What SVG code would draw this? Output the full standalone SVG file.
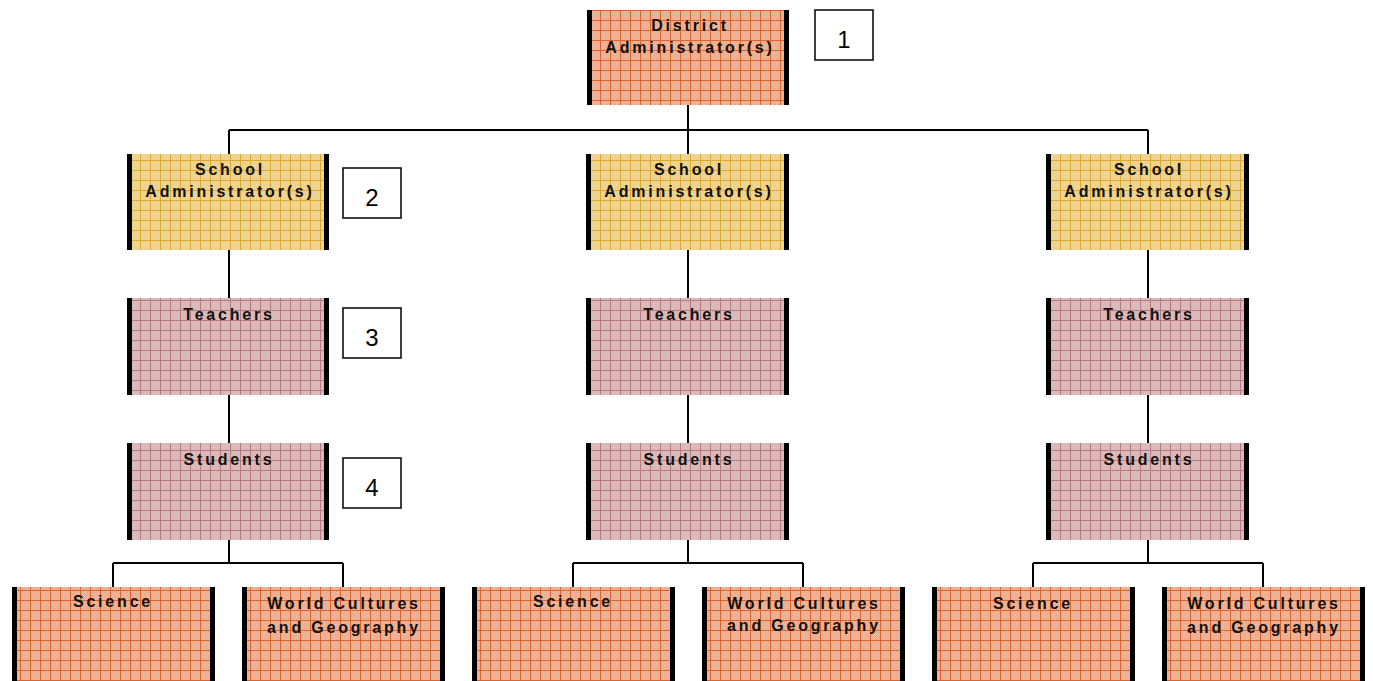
<svg xmlns="http://www.w3.org/2000/svg" width="1373" height="681" viewBox="0 0 1373 681">
<defs>
<pattern id="chk" width="2" height="2" patternUnits="userSpaceOnUse">
<rect width="1" height="1" fill="#ffffff" fill-opacity="0.25"/>
<rect x="1" y="1" width="1" height="1" fill="#ffffff" fill-opacity="0.25"/>
</pattern>
<pattern id="pSalmon" width="10" height="10" patternUnits="userSpaceOnUse">
<rect width="10" height="10" fill="#EBA686"/>
<rect width="10" height="10" fill="url(#chk)"/>
<path d="M0 0.5H10M0.5 0V10" stroke="#D8642F" stroke-width="1" fill="none"/>
</pattern>
<pattern id="pYellow" width="10" height="10" patternUnits="userSpaceOnUse">
<rect width="10" height="10" fill="#ECCD80"/>
<rect width="10" height="10" fill="url(#chk)"/>
<path d="M0 0.5H10M0.5 0V10" stroke="#D8A935" stroke-width="1" fill="none"/>
</pattern>
<pattern id="pPink" width="10" height="10" patternUnits="userSpaceOnUse">
<rect width="10" height="10" fill="#D6B0B0"/>
<rect width="10" height="10" fill="url(#chk)"/>
<path d="M0 0.5H10M0.5 0V10" stroke="#B57A80" stroke-width="1" fill="none"/>
</pattern>
</defs>
<style>
.bar{fill:#000}
.t{font-family:"Liberation Sans",Arial,sans-serif;font-weight:bold;font-size:16px;letter-spacing:2.8px;fill:#111;text-anchor:middle}
.num rect{fill:#fff;stroke:#000;stroke-width:1.5}
.num text{font-family:"Liberation Sans",Arial,sans-serif;font-size:24px;fill:#000;text-anchor:middle}
.c{stroke:#000;stroke-width:2;fill:none}
</style>
<g id="connectors">
<path class="c" d="M688 105V130M229 130H1148M229 130V154M688 130V154M1148 130V154"/>
<path class="c" d="M229 250V298M688 250V298M1148 250V298"/>
<path class="c" d="M229 395V443M688 395V443M1148 395V443"/>
<path class="c" d="M229 540V563M113 563H343M113 563V587M343 563V587"/>
<path class="c" d="M688 540V563M573 563H803M573 563V587M803 563V587"/>
<path class="c" d="M1148 540V563M1033 563H1263M1033 563V587M1263 563V587"/>
</g>
<g id="district">
<rect x="587" y="10" width="202" height="95" fill="url(#pSalmon)"/>
<rect class="bar" x="587" y="10" width="5" height="95"/><rect class="bar" x="784" y="10" width="5" height="95"/>
<text class="t" x="690" y="31">District</text>
<text class="t" x="690" y="53">Administrator(s)</text>
</g>
<g id="school1">
<rect x="127" y="154" width="202" height="96" fill="url(#pYellow)"/>
<rect class="bar" x="127" y="154" width="5" height="96"/><rect class="bar" x="324" y="154" width="5" height="96"/>
<text class="t" x="230" y="175">School</text>
<text class="t" x="230" y="197">Administrator(s)</text>
</g>
<g id="school2">
<rect x="586" y="154" width="203" height="96" fill="url(#pYellow)"/>
<rect class="bar" x="586" y="154" width="5" height="96"/><rect class="bar" x="784" y="154" width="5" height="96"/>
<text class="t" x="689" y="175">School</text>
<text class="t" x="689" y="197">Administrator(s)</text>
</g>
<g id="school3">
<rect x="1046" y="154" width="203" height="96" fill="url(#pYellow)"/>
<rect class="bar" x="1046" y="154" width="5" height="96"/><rect class="bar" x="1244" y="154" width="5" height="96"/>
<text class="t" x="1149" y="175">School</text>
<text class="t" x="1149" y="197">Administrator(s)</text>
</g>
<g id="teachers1">
<rect x="127" y="298" width="202" height="97" fill="url(#pPink)"/>
<rect class="bar" x="127" y="298" width="5" height="97"/><rect class="bar" x="324" y="298" width="5" height="97"/>
<text class="t" x="229" y="320">Teachers</text>
</g>
<g id="teachers2">
<rect x="586" y="298" width="203" height="97" fill="url(#pPink)"/>
<rect class="bar" x="586" y="298" width="5" height="97"/><rect class="bar" x="784" y="298" width="5" height="97"/>
<text class="t" x="689" y="320">Teachers</text>
</g>
<g id="teachers3">
<rect x="1046" y="298" width="203" height="97" fill="url(#pPink)"/>
<rect class="bar" x="1046" y="298" width="5" height="97"/><rect class="bar" x="1244" y="298" width="5" height="97"/>
<text class="t" x="1149" y="320">Teachers</text>
</g>
<g id="students1">
<rect x="127" y="443" width="202" height="97" fill="url(#pPink)"/>
<rect class="bar" x="127" y="443" width="5" height="97"/><rect class="bar" x="324" y="443" width="5" height="97"/>
<text class="t" x="229" y="465">Students</text>
</g>
<g id="students2">
<rect x="586" y="443" width="203" height="97" fill="url(#pPink)"/>
<rect class="bar" x="586" y="443" width="5" height="97"/><rect class="bar" x="784" y="443" width="5" height="97"/>
<text class="t" x="689" y="465">Students</text>
</g>
<g id="students3">
<rect x="1046" y="443" width="203" height="97" fill="url(#pPink)"/>
<rect class="bar" x="1046" y="443" width="5" height="97"/><rect class="bar" x="1244" y="443" width="5" height="97"/>
<text class="t" x="1149" y="465">Students</text>
</g>
<g id="science1">
<rect x="12" y="587" width="203" height="94" fill="url(#pSalmon)"/>
<rect class="bar" x="12" y="587" width="5" height="94"/><rect class="bar" x="210" y="587" width="5" height="94"/>
<text class="t" x="113" y="607">Science</text>
</g>
<g id="world1">
<rect x="242" y="587" width="203" height="94" fill="url(#pSalmon)"/>
<rect class="bar" x="242" y="587" width="5" height="94"/><rect class="bar" x="440" y="587" width="5" height="94"/>
<text class="t" x="344" y="609">World Cultures</text>
<text class="t" x="344" y="633">and Geography</text>
</g>
<g id="science2">
<rect x="472" y="587" width="203" height="94" fill="url(#pSalmon)"/>
<rect class="bar" x="472" y="587" width="5" height="94"/><rect class="bar" x="670" y="587" width="5" height="94"/>
<text class="t" x="573" y="607">Science</text>
</g>
<g id="world2">
<rect x="702" y="587" width="203" height="94" fill="url(#pSalmon)"/>
<rect class="bar" x="702" y="587" width="5" height="94"/><rect class="bar" x="900" y="587" width="5" height="94"/>
<text class="t" x="804" y="609">World Cultures</text>
<text class="t" x="804" y="631">and Geography</text>
</g>
<g id="science3">
<rect x="932" y="587" width="203" height="94" fill="url(#pSalmon)"/>
<rect class="bar" x="932" y="587" width="5" height="94"/><rect class="bar" x="1130" y="587" width="5" height="94"/>
<text class="t" x="1033" y="609">Science</text>
</g>
<g id="world3">
<rect x="1162" y="587" width="203" height="94" fill="url(#pSalmon)"/>
<rect class="bar" x="1162" y="587" width="5" height="94"/><rect class="bar" x="1360" y="587" width="5" height="94"/>
<text class="t" x="1264" y="609">World Cultures</text>
<text class="t" x="1264" y="633">and Geography</text>
</g>
<g id="label1" class="num"><rect x="815" y="10" width="58" height="50"/><text x="844" y="48">1</text></g>
<g id="label2" class="num"><rect x="343" y="168" width="58" height="50"/><text x="372" y="206">2</text></g>
<g id="label3" class="num"><rect x="343" y="308" width="58" height="50"/><text x="372" y="346">3</text></g>
<g id="label4" class="num"><rect x="343" y="458" width="58" height="50"/><text x="372" y="496">4</text></g>
</svg>
